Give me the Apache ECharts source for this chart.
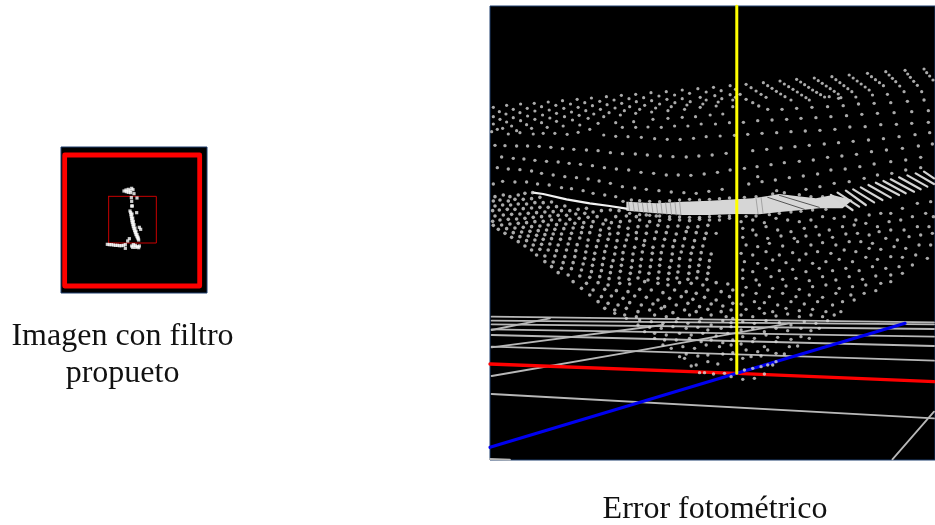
<!DOCTYPE html>
<html><head><meta charset="utf-8">
<style>html,body{margin:0;background:#fff}#c{width:935px;height:525px}</style>
<script src="https://cdn.jsdelivr.net/npm/echarts@6/dist/echarts.min.js"></script>
</head><body><div id="c"></div>
<script>
const captionLeft = ["Imagen con filtro", "propueto"];
const captionRight = ["Error fotométrico"];

// left panel, in its own 0-based reading units
const leftOuter = [[65,45],[449,45],[449,438],[44,438],[44,45],[65,45]];
const leftInner = [[176,169],[319,169],[319,309],[176,309],[176,169]];
const leftDots = [[222,153],[228,150],[235,148],[240,152],[245,145],[249,149],[229,155],[235,157],[242,158],[252,161],[244,173],[261,174],[245,184],[247,198],[245,198],[260,218],[240,213],[242,218],[243,224],[244,230],[245,236],[246,242],[247,248],[249,254],[250,260],[252,266],[254,272],[256,278],[258,284],[261,290],[264,296],[266,300],[246,222],[248,234],[250,244],[252,254],[255,264],[258,274],[261,284],[264,292],[268,262],[272,268],[172,313],[178,314],[184,314],[190,315],[196,316],[202,316],[208,317],[214,317],[220,316],[226,314],[226,325],[233,303],[238,296],[245,318],[250,314],[256,316],[262,320],[268,318],[248,322],[256,322],[266,323]];

// right panel, in its own reading units
const yellowAxis = [[742,18],[742,1120]];
const redAxis = [[0,1092],[742,1120],[1335,1145]];
const blueAxis = [[0,1342],[742,1120],[1248,970]];
const floorLines = [
 [[5,1182],[1335,1255]],[[1210,1378],[1335,1235]],[[5,1128],[430,1055],[900,970]],
 [[5,1042],[520,975]],[[5,990],[180,955]],[[5,1040],[1335,1082]],[[5,1005],[1335,1038]],
 [[5,988],[1335,1010]],[[5,973],[1335,987]],[[5,962],[1335,973]],[[5,950],[1335,967]],[[0,1377],[60,1379]]
];
const bandFill = [[410,605],[500,610],[580,605],[660,602],[740,598],[790,595],[835,588],[870,582],[920,588],[980,595],[1030,585],[1090,600],[1060,625],[990,625],[940,630],[880,635],[810,643],[740,642],[660,645],[580,645],[500,640],[410,632]];
const bandTail = [[130,578],[160,582],[230,598],[300,610],[360,618],[410,626]];
const bandGaps = [[[835,592],[945,628]],[[870,586],[990,622]]];
const bandStrands = [
 [[1025,585],[1090,630]],[[1045,578],[1110,620]],[[1070,572],[1130,615]],[[1092,568],[1155,607]],
 [[1115,562],[1180,600]],[[1138,555],[1205,593]],[[1160,548],[1230,585]],[[1183,543],[1250,580]],
 [[1205,538],[1275,575]],[[1230,532],[1295,568]],[[1255,526],[1315,560]],[[1280,520],[1335,552]],[[1305,515],[1335,535]]
];
const bandHatch = [[[416,606],[420,632]],[[430,607],[434,634]],[[444,608],[448,636]],[[458,609],[462,637]],[[472,609],[476,638]],[[486,610],[490,639]],[[500,610],[504,640]],[[514,609],[518,642]],[[528,608],[532,643]],[[542,607],[546,644]],[[556,606],[560,645]],[[570,605],[574,645]],[[800,596],[806,642]],[[815,592],[821,640]]];
const bandFringe = [[400,604],[425,600],[450,602],[480,604],[510,605],[540,602],[570,600],[600,598],[630,600],[660,598],[690,596],[720,594],[765,592],[800,590],[850,582],[885,578],[930,584],[965,590],[1000,590],[420,640],[450,644],[480,646],[510,648],[540,650],[570,651],[600,652],[630,652],[660,650],[690,649],[720,648],[770,649],[800,648],[840,644],[870,640],[905,636],[935,634],[970,630],[1010,628]];
const upperStrands = [[770,253],[785,263],[800,273],[815,283],[830,292],[822,248],[835,257],[848,265],[861,274],[874,282],[887,290],[905,300],[872,243],[885,252],[898,260],[911,268],[924,276],[937,285],[950,293],[960,300],[922,238],[934,246],[946,254],[958,262],[970,270],[982,277],[994,284],[1006,291],[1020,290],[1048,295],[975,234],[987,242],[999,250],[1011,258],[1023,266],[1035,274],[1047,282],[1055,293],[1028,230],[1040,239],[1052,248],[1064,257],[1076,266],[1088,275],[1100,291],[1080,225],[1092,234],[1104,243],[1116,252],[1128,261],[1140,270],[1150,285],[1135,220],[1147,230],[1159,239],[1171,248],[1183,257],[1195,283],[1190,215],[1200,225],[1210,235],[1220,245],[1232,258],[1245,275],[1248,211],[1256,222],[1264,232],[1274,244],[1285,256],[1298,275],[1305,207],[1313,218],[1322,228],[1332,240]];
const upperDome = [[10,322],[50,316],[92,312],[133,310],[175,306],[218,302],[262,298],[305,294],[350,290],[395,286],[438,283],[484,278],[530,275],[578,270],[625,266],[672,262],[722,257],[28,335],[70,328],[112,325],[155,320],[198,316],[242,312],[285,308],[330,304],[373,300],[418,296],[462,293],[508,288],[555,285],[600,280],[650,276],[695,272],[738,268],[10,350],[48,342],[90,338],[135,333],[178,330],[222,325],[265,322],[308,317],[352,314],[396,310],[440,305],[486,302],[532,298],[578,296],[632,292],[676,287],[722,284],[30,358],[70,353],[113,348],[158,345],[200,340],[245,336],[288,332],[332,328],[376,324],[420,320],[465,316],[510,312],[556,308],[602,305],[650,300],[697,296],[738,292],[10,372],[50,366],[92,362],[135,358],[180,354],[224,350],[268,346],[312,342],[358,338],[404,332],[450,328],[498,324],[545,320],[592,315],[640,312],[686,306],[730,300],[22,388],[65,378],[110,374],[155,368],[200,364],[248,360],[295,355],[342,350],[392,345],[438,340],[486,336],[535,332],[585,328],[632,322],[680,318],[730,320],[5,395],[38,385],[80,392],[125,385],[172,382],[220,378],[270,375],[325,370],[378,368],[432,365],[490,358],[535,355],[578,352],[618,350],[662,345],[700,342],[55,402],[90,398],[130,402],[160,400],[195,400],[232,403],[265,397],[300,388],[342,405],[378,409],[415,410],[455,412],[495,416],[533,418],[572,418],[612,415],[650,410],[692,408],[735,406],[398,382],[438,382],[475,381],[515,382],[555,378],[595,378],[635,372],[678,372],[720,368]];
const upperRight = [[752,283],[770,298],[790,308],[808,318],[835,328],[878,328],[922,325],[968,322],[1015,320],[1062,317],[1108,312],[1155,310],[1205,308],[1255,304],[1305,300],[762,367],[805,362],[848,360],[892,358],[935,355],[980,353],[1025,350],[1072,347],[1118,343],[1165,340],[1215,338],[1268,335],[1318,332],[775,403],[818,400],[862,398],[905,395],[948,393],[992,391],[1037,388],[1082,381],[1128,380],[1175,374],[1222,373],[1268,370],[1318,367],[790,452],[832,448],[875,444],[917,440],[960,436],[1005,432],[1048,428],[1092,424],[1138,420],[1183,416],[1230,410],[1278,404],[1322,398],[803,500],[845,494],[885,488],[930,484],[972,480],[1015,472],[1058,468],[1102,463],[1147,455],[1192,450],[1240,445],[1288,438],[1330,432],[765,505],[805,530],[858,540],[900,533],[942,528],[985,522],[1025,510],[1068,507],[1112,500],[1155,492],[1205,485],[1250,480],[1295,472],[778,552],[818,545],[862,572],[950,568],[992,560],[1035,550],[1080,545],[1125,535],[1165,525],[1208,520],[1250,510],[1295,503]];
const upperFront = [[15,436],[45,437],[80,438],[113,438],[148,439],[183,442],[218,446],[252,448],[290,450],[325,452],[362,458],[398,461],[437,462],[473,465],[512,468],[550,470],[590,471],[628,468],[668,465],[710,460],[35,471],[70,475],[102,477],[135,481],[170,484],[205,486],[238,490],[272,493],[308,497],[344,503],[380,507],[417,510],[454,517],[492,520],[530,525],[566,525],[604,526],[644,522],[684,517],[722,510],[22,503],[55,507],[90,509],[125,513],[155,520],[190,525],[225,530],[260,533],[295,537],[328,543],[362,550],[398,560],[435,564],[470,568],[508,572],[545,576],[583,578],[620,580],[658,574],[698,568],[10,552],[38,544],[75,546],[110,546],[143,552],[178,555],[215,563],[245,566],[280,572],[310,580],[345,585],[378,590]];
const lowerLeft = [[15,590],[40,585],[60,590],[85,585],[105,580],[128,578],[10,603],[30,600],[55,603],[75,598],[100,598],[125,596],[150,592],[15,618],[38,615],[62,615],[85,612],[110,612],[135,608],[160,608],[185,606],[8,632],[28,630],[52,628],[75,628],[100,626],[125,624],[150,622],[175,622],[200,620],[225,618],[15,648],[40,645],[65,643],[90,642],[115,640],[140,638],[165,636],[190,635],[215,632],[240,632],[265,628],[290,625],[8,664],[30,660],[55,658],[80,657],[105,655],[130,652],[155,650],[180,648],[205,646],[230,646],[258,642],[285,640],[310,636],[335,632],[362,630],[388,632],[10,676],[35,675],[60,672],[85,670],[110,668],[135,665],[160,664],[185,660],[210,660],[240,658],[268,655],[295,652],[322,650],[348,660],[378,650],[410,648],[440,650],[470,645],[500,648],[25,688],[50,686],[75,684],[100,682],[125,680],[150,678],[175,675],[200,674],[228,672],[255,670],[282,668],[310,665],[340,672],[365,668],[392,665],[420,663],[450,660],[480,665],[510,662],[540,658],[570,660],[600,662],[630,658],[660,660],[45,700],[70,698],[95,696],[120,694],[145,692],[170,690],[195,688],[222,686],[250,684],[278,682],[305,680],[332,690],[358,685],[388,680],[415,685],[445,680],[472,678],[505,676],[535,680],[565,678],[595,682],[625,680],[655,676],[65,712],[90,710],[115,708],[140,706],[165,704],[190,702],[215,702],[245,700],[275,698],[300,698],[330,706],[360,702],[385,700],[415,705],[440,698],[470,700],[500,696],[530,698],[560,702],[590,695],[620,698],[650,700],[85,725],[110,722],[135,720],[160,718],[185,716],[212,718],[240,716],[270,714],[295,720],[325,722],[355,718],[382,722],[410,720],[440,716],[465,722],[495,716],[525,718],[555,722],[585,716],[615,722],[645,716],[105,738],[130,735],[155,733],[180,732],[205,735],[235,732],[262,734],[292,738],[320,740],[350,738],[378,742],[405,738],[435,742],[462,736],[490,742],[520,738],[550,740],[580,738],[610,742],[640,738],[125,750],[150,748],[175,750],[200,752],[230,750],[258,752],[288,756],[315,760],[345,755],[375,762],[400,758],[430,762],[458,756],[488,760],[515,758],[548,762],[575,756],[605,760],[635,758],[665,762],[140,765],[165,768],[195,768],[225,770],[255,770],[285,775],[312,778],[342,775],[370,782],[398,778],[428,782],[455,778],[485,780],[512,778],[545,782],[570,776],[602,780],[632,778],[660,782],[165,785],[190,786],[220,788],[250,788],[280,792],[308,796],[338,794],[365,800],[395,796],[425,802],[452,798],[482,800],[510,796],[540,802],[568,798],[600,800],[628,796],[658,802],[185,800],[215,805],[245,806],[275,810],[305,815],[335,812],[362,818],[392,814],[422,820],[450,816],[478,820],[508,816],[538,820],[565,816],[598,820],[625,815],[655,820],[205,818],[235,825],[270,828],[300,832],[330,830],[358,836],[388,834],[418,838],[445,834],[475,840],[505,835],[535,838],[562,834],[595,838],[622,834],[652,838],[250,845],[290,850],[325,848],[355,855],[390,850],[420,852],[465,845],[505,850],[535,855],[570,848],[605,850],[640,855],[680,848],[715,852],[275,865],[310,870],[345,868],[380,872],[415,875],[450,868],[485,870],[520,878],[555,870],[590,875],[620,880],[655,870],[695,875],[730,870],[300,885],[335,890],[365,888],[400,895],[435,888],[470,892],[505,900],[540,895],[575,890],[610,898],[645,892],[680,900],[720,890],[325,905],[355,910],[385,915],[420,908],[455,915],[490,912],[525,920],[560,915],[595,910],[630,920],[665,912],[700,918],[730,910],[345,925],[375,930],[410,925],[445,935],[480,930],[515,925],[550,938],[585,930],[620,935],[655,928],[695,935],[725,930]];
const coneBottom = [[375,940],[405,945],[440,950],[495,945],[530,950],[565,955],[600,945],[635,955],[665,945],[710,950],[730,955],[410,955],[450,960],[485,965],[520,970],[560,965],[595,970],[630,965],[665,975],[700,962],[725,968],[445,975],[480,982],[515,985],[550,980],[590,985],[625,982],[655,990],[695,985],[725,980],[465,995],[495,1000],[530,1005],[570,1000],[605,1005],[640,1000],[680,1008],[715,1000],[495,1015],[525,1020],[560,1020],[600,1015],[635,1025],[665,1020],[700,1028],[730,1020],[520,1035],[545,1045],[580,1040],[615,1045],[650,1035],[690,1040],[725,1035],[570,1070],[590,1062],[625,1068],[655,1065],[700,1062],[730,1058],[585,1075],[605,1098],[620,1095],[655,1085],[685,1092],[725,1078],[630,1118],[645,1118],[672,1122],[705,1120],[725,1130],[760,1138],[795,1135],[825,1122],[755,945],[790,950],[825,940],[860,948],[895,942],[930,950],[965,945],[1000,950],[1035,945],[760,965],[795,970],[830,962],[870,968],[905,975],[945,965],[980,970],[1015,962],[755,990],[790,985],[825,995],[860,985],[895,992],[935,985],[965,992],[990,985],[760,1010],[795,1015],[830,1005],[865,1012],[905,1018],[935,1010],[960,1015],[755,1032],[790,1025],[825,1040],[860,1025],[900,1040],[925,1038],[770,1050],[805,1055],[835,1050],[860,1060],[885,1062],[760,1075],[785,1070],[815,1068],[850,1095],[860,1085],[765,1110],[790,1105],[815,1100],[835,1095]];
const lowerRight = [[690,660],[720,655],[755,665],[790,660],[825,668],[860,655],[895,660],[930,665],[965,660],[1000,650],[1035,655],[1065,650],[1100,660],[1140,645],[1175,640],[1205,640],[1240,625],[1285,610],[1325,605],[760,685],[790,690],[830,680],[865,690],[905,695],[945,685],[980,680],[1020,690],[1060,680],[1095,675],[1130,670],[1165,680],[1200,665],[1235,660],[1270,650],[1310,640],[1333,650],[680,700],[760,712],[800,705],[835,715],[875,708],[915,715],[950,708],[990,705],[1030,712],[1070,702],[1105,700],[1140,705],[1170,695],[1205,690],[1245,690],[1285,680],[1320,680],[770,735],[805,740],[840,730],[880,738],[925,725],[965,735],[1000,728],[1040,735],[1080,725],[1115,725],[1150,730],[1190,715],[1225,720],[1260,710],[1295,705],[1330,700],[755,760],[790,765],[830,755],[870,765],[910,758],[950,762],[985,755],[1025,760],[1065,750],[1100,755],[1140,745],[1175,748],[1215,740],[1250,745],[1290,735],[1325,735],[765,785],[805,790],[850,780],[890,788],[930,780],[970,790],[1010,785],[1050,778],[1090,785],[1130,772],[1165,778],[1205,770],[1240,772],[1280,765],[1315,775],[760,810],[790,815],[830,805],[870,812],[910,808],[950,815],[990,805],[1030,812],[1070,805],[1110,812],[1150,800],[1190,805],[1230,800],[1270,795],[760,835],[800,840],[845,830],[880,838],[920,835],[960,842],[1000,830],[1040,840],[1080,830],[1120,838],[1160,828],[1205,825],[1240,820],[770,862],[810,855],[850,865],[890,858],[930,868],[970,860],[1010,855],[1050,865],[1090,860],[1130,855],[1175,850],[1205,845],[760,885],[800,880],[840,890],[880,880],[920,890],[960,885],[1000,892],[1040,880],[1085,885],[1125,880],[1160,872],[755,912],[795,905],[825,908],[865,915],[905,905],[945,912],[985,905],[1030,915],[1060,905],[1095,900],[770,928],[810,925],[850,935],[890,925],[930,932],[970,928],[1010,935],[1055,935]];

const ink = '#d4d4d4';
const frame = '#1f3f6e';
const poly = (data, color, width, gi, z) => ({type:'line', xAxisIndex:gi, yAxisIndex:gi, data, symbol:'none', silent:true, z,
  lineStyle:{color, width, cap:'round', join:'round'}});
const dots = (data, color, size, gi, z, shape) => ({type:'scatter', xAxisIndex:gi, yAxisIndex:gi, data, symbol:shape||'circle', symbolSize:size, silent:true, z,
  itemStyle:{color}});
const caption = (t, left, top) => ({text:t, left, top, textAlign:'center',
  textStyle:{fontFamily:'Liberation Serif', fontSize:32, fontWeight:'normal', color:'#111'}});

const series = [
  poly(leftOuter,'#ff0000',4.8,0,2),
  poly(leftInner,'#c80000',1,0,3),
  dots(leftDots,'#ffffff',3.2,0,4,'rect'),
  ...floorLines.map(l=>poly(l,'#b8b8b8',1.8,1,2)),
  poly(redAxis,'#ff0000',3.4,1,3),
  poly(blueAxis,'#0000f0',3.2,1,3),
  {type:'custom', xAxisIndex:1, yAxisIndex:1, data:[0], silent:true, z:4,
   renderItem:(p,api)=>({type:'polygon', shape:{points:bandFill.map(q=>api.coord(q))}, style:{fill:'#d6d6d6'}})},
  poly(bandTail,'#f2f2f2',2.2,1,5),
  ...bandGaps.map(l=>poly(l,'#333333',0.8,1,5)),
  ...bandHatch.map(l=>poly(l,'#8c8c8c',0.7,1,5)),
  ...bandStrands.map(l=>poly(l,'#d4d4d4',2.2,1,5)),
  dots(bandFringe,ink,3.4,1,6),
  dots(upperStrands,ink,3.2,1,6),
  dots(upperDome,ink,3.2,1,6),
  dots(upperRight,ink,3.4,1,6),
  dots(upperFront,ink,3.4,1,6),
  dots(lowerLeft,ink,3.6,1,6),
  dots(coneBottom,ink,3.4,1,6),
  dots(lowerRight,ink,3.4,1,6),
  poly(yellowAxis,'#ffff00',3,1,7)
];
const hidden = (min,max,extra) => Object.assign({type:'value', min, max, show:false}, extra||{});
const chart = echarts.init(document.getElementById('c'), null, {renderer:'canvas'});
chart.setOption({
  animation:false, backgroundColor:'#ffffff',
  title:[caption(captionLeft[0],117.5,316), caption(captionLeft[1],117.5,353), caption(captionRight[0],710,489)],
  grid:[
    {left:61, top:147, width:146, height:146, show:true, backgroundColor:'#000', borderColor:frame, borderWidth:1},
    {left:490, top:6, width:446, height:454, show:true, backgroundColor:'#000', borderColor:frame, borderWidth:1}
  ],
  xAxis:[hidden(33,471,{gridIndex:0}), hidden(0,1338,{gridIndex:1})],
  yAxis:[hidden(21,459,{gridIndex:0,inverse:true}), hidden(18,1380,{gridIndex:1,inverse:true})],
  series
});
</script></body></html>
